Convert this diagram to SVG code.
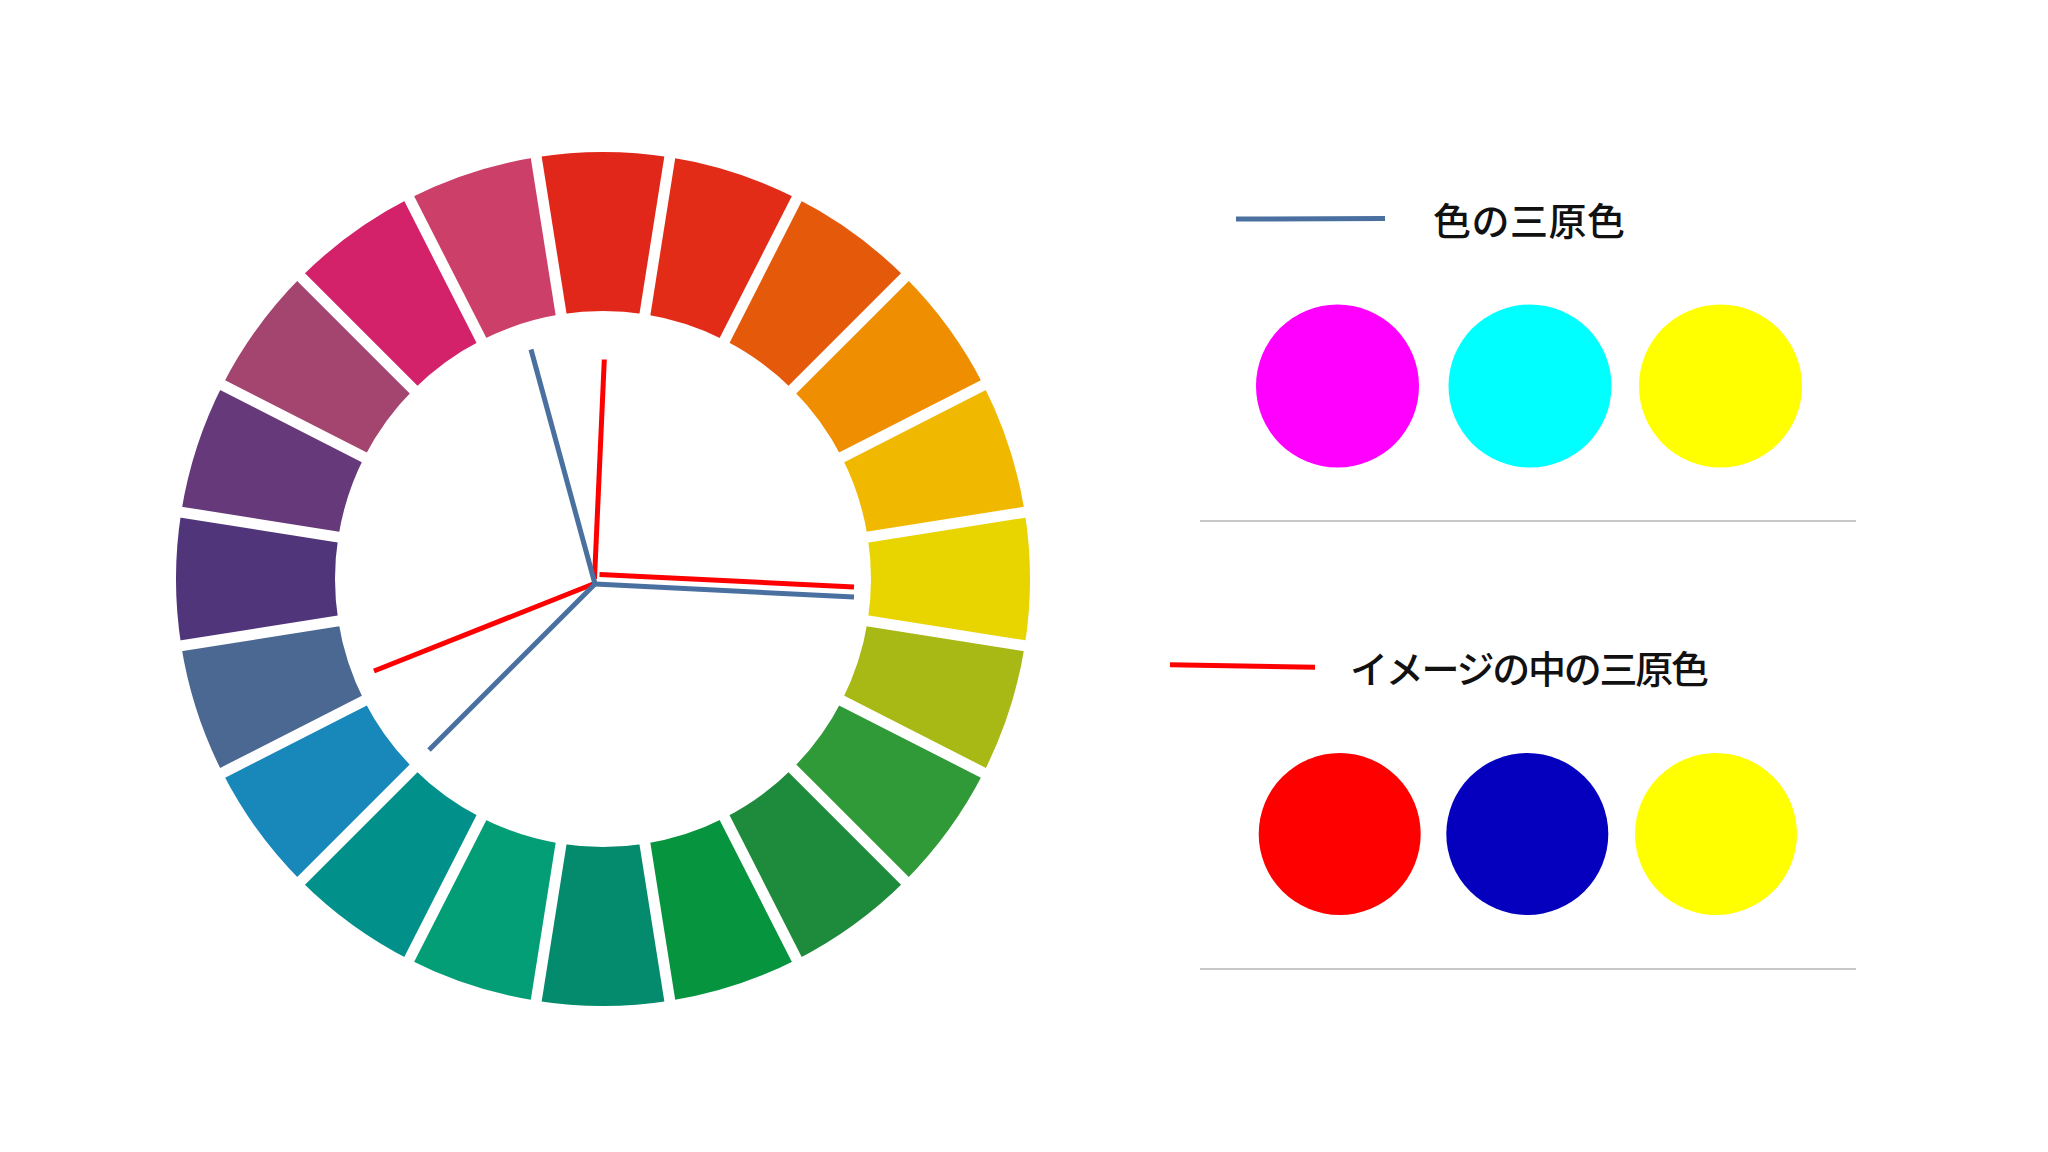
<svg xmlns="http://www.w3.org/2000/svg" width="2048" height="1152" viewBox="0 0 2048 1152">
<style>
.gap{stroke:#fff;stroke-width:11}
.blue{stroke:#4A70A0;stroke-width:5;fill:none}
.red{stroke:#FF0000;stroke-width:5;fill:none}
.sep{stroke:#C8C8C8;stroke-width:1.8}
.lbl{font-family:"Noto Sans CJK JP","Noto Sans CJK SC",sans-serif;font-size:38px;font-weight:500;fill:#111;dominant-baseline:central}
</style>
<defs>
<path id="sec" d="M536.20,157.26 A427,427 0 0 1 669.80,157.26 L644.92,314.30 A268,268 0 0 0 561.08,314.30 Z"/>
<line id="gapl" x1="603" y1="579" x2="603" y2="140"/>
</defs>
<rect width="2048" height="1152" fill="#fff"/>
<g id="wheel">
<use href="#sec" fill="#E0271A"/>
<use href="#sec" fill="#E22C17" transform="rotate(18 603 579)"/>
<use href="#sec" fill="#E55A0A" transform="rotate(36 603 579)"/>
<use href="#sec" fill="#EF8E00" transform="rotate(54 603 579)"/>
<use href="#sec" fill="#F0B900" transform="rotate(72 603 579)"/>
<use href="#sec" fill="#E8D500" transform="rotate(90 603 579)"/>
<use href="#sec" fill="#A8B814" transform="rotate(108 603 579)"/>
<use href="#sec" fill="#2F9A37" transform="rotate(126 603 579)"/>
<use href="#sec" fill="#1E8B3C" transform="rotate(144 603 579)"/>
<use href="#sec" fill="#07943E" transform="rotate(162 603 579)"/>
<use href="#sec" fill="#048A6C" transform="rotate(180 603 579)"/>
<use href="#sec" fill="#049E76" transform="rotate(198 603 579)"/>
<use href="#sec" fill="#02918A" transform="rotate(216 603 579)"/>
<use href="#sec" fill="#1888BB" transform="rotate(234 603 579)"/>
<use href="#sec" fill="#4A6892" transform="rotate(252 603 579)"/>
<use href="#sec" fill="#51357A" transform="rotate(270 603 579)"/>
<use href="#sec" fill="#663A7A" transform="rotate(288 603 579)"/>
<use href="#sec" fill="#A44570" transform="rotate(306 603 579)"/>
<use href="#sec" fill="#D3226A" transform="rotate(324 603 579)"/>
<use href="#sec" fill="#CC3F69" transform="rotate(342 603 579)"/>
<g class="gap">
<use href="#gapl" transform="rotate(9 603 579)"/>
<use href="#gapl" transform="rotate(27 603 579)"/>
<use href="#gapl" transform="rotate(45 603 579)"/>
<use href="#gapl" transform="rotate(63 603 579)"/>
<use href="#gapl" transform="rotate(81 603 579)"/>
<use href="#gapl" transform="rotate(99 603 579)"/>
<use href="#gapl" transform="rotate(117 603 579)"/>
<use href="#gapl" transform="rotate(135 603 579)"/>
<use href="#gapl" transform="rotate(153 603 579)"/>
<use href="#gapl" transform="rotate(171 603 579)"/>
<use href="#gapl" transform="rotate(189 603 579)"/>
<use href="#gapl" transform="rotate(207 603 579)"/>
<use href="#gapl" transform="rotate(225 603 579)"/>
<use href="#gapl" transform="rotate(243 603 579)"/>
<use href="#gapl" transform="rotate(261 603 579)"/>
<use href="#gapl" transform="rotate(279 603 579)"/>
<use href="#gapl" transform="rotate(297 603 579)"/>
<use href="#gapl" transform="rotate(315 603 579)"/>
<use href="#gapl" transform="rotate(333 603 579)"/>
<use href="#gapl" transform="rotate(351 603 579)"/>
</g>
</g>
<g id="connectors">
<line class="red" x1="594.5" y1="579" x2="604.3" y2="359.5"/>
<line class="red" x1="599.5" y1="574.5" x2="854" y2="587"/>
<line class="red" x1="597" y1="582.5" x2="374" y2="671"/>
<line class="blue" x1="595" y1="584" x2="531" y2="349.5"/>
<line class="blue" x1="595" y1="584" x2="854" y2="597"/>
<line class="blue" x1="595" y1="584" x2="429" y2="750"/>
</g>
<g id="legend-primary">
<line class="blue" x1="1236" y1="219" x2="1385" y2="218.5"/>
<text class="lbl" x="1433" y="218.5" textLength="192" lengthAdjust="spacing">色の三原色</text>
<circle cx="1337.5" cy="386" r="81.5" fill="#FF00FF"/>
<circle cx="1530" cy="386" r="81.5" fill="#00FFFF"/>
<circle cx="1720.5" cy="386" r="81.5" fill="#FFFF00"/>
<line class="sep" x1="1200" y1="521" x2="1856" y2="521"/>
</g>
<g id="legend-image">
<line class="red" x1="1170" y1="664.7" x2="1315" y2="667.3"/>
<text class="lbl" x="1350" y="666" textLength="359" lengthAdjust="spacing">イメージの中の三原色</text>
<circle cx="1339.7" cy="834" r="81" fill="#FF0000"/>
<circle cx="1527.3" cy="834" r="81" fill="#0500BE"/>
<circle cx="1716" cy="834" r="81" fill="#FFFF00"/>
<line class="sep" x1="1200" y1="969" x2="1856" y2="969"/>
</g>
</svg>
